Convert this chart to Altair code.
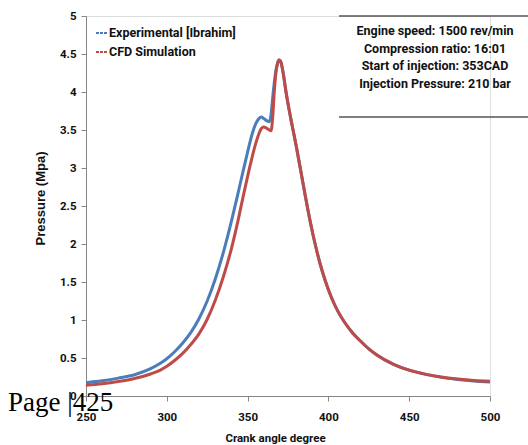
import altair as alt
import pandas as pd

# Crank angle (deg) and cylinder pressure (MPa) for both series
crank_angle = [250, 260, 270, 280, 290, 296, 300, 305, 310, 315, 320, 325, 330, 335,
               340, 344, 347, 350, 353, 355, 357, 358.5, 360, 362, 363.5, 364.5, 365.5,
               366.5, 367.5, 368.5, 369.5, 370.5, 372, 374, 377, 380, 383, 386, 389,
               392, 395, 398, 402, 406, 410, 415, 420, 425, 430, 440, 450, 460, 470,
               480, 490, 500]

experimental = [0.175, 0.20, 0.235, 0.28, 0.36, 0.43, 0.49, 0.585, 0.70, 0.84, 1.02, 1.25,
                1.54, 1.89, 2.30, 2.66, 2.94, 3.21, 3.46, 3.58, 3.65, 3.67, 3.65, 3.62,
                3.61, 3.70, 3.92, 4.12, 4.28, 4.38, 4.42, 4.40, 4.25, 3.97, 3.62, 3.30,
                2.95, 2.60, 2.27, 1.98, 1.73, 1.52, 1.29, 1.11, 0.97, 0.83, 0.72, 0.62,
                0.54, 0.42, 0.34, 0.285, 0.245, 0.218, 0.198, 0.184]

cfd_simulation = [0.14, 0.16, 0.19, 0.23, 0.29, 0.34, 0.39, 0.47, 0.565, 0.68, 0.82, 1.01,
                  1.26, 1.57, 1.94, 2.30, 2.60, 2.89, 3.16, 3.32, 3.45, 3.52, 3.54, 3.52,
                  3.50, 3.49, 3.66, 4.00, 4.25, 4.37, 4.42, 4.40, 4.25, 3.97, 3.62, 3.30,
                  2.95, 2.60, 2.27, 1.98, 1.73, 1.52, 1.29, 1.11, 0.97, 0.83, 0.72, 0.62,
                  0.54, 0.42, 0.34, 0.288, 0.25, 0.224, 0.205, 0.195]

series_names = ["Experimental [Ibrahim]", "CFD Simulation"]
series_colors = ["#4a7ebb", "#be4b48"]

x_ticks = [250, 300, 350, 400, 450, 500]
y_ticks = [0, 0.5, 1, 1.5, 2, 2.5, 3, 3.5, 4, 4.5, 5]

info_lines = ["Engine speed: 1500 rev/min",
              "Compression ratio: 16:01",
              "Start of injection: 353CAD",
              "Injection Pressure: 210 bar"]

page_label = "Page |425"

NARROW = "Roboto"
INK = "#111111"
AXIS_GREY = "#868686"

rows = []
for i, a in enumerate(crank_angle):
    rows.append({"angle": a, "pressure": experimental[i], "series": series_names[0], "order": 0})
    rows.append({"angle": a, "pressure": cfd_simulation[i], "series": series_names[1], "order": 1})
df = pd.DataFrame(rows)

x_axis = alt.Axis(values=x_ticks, title="Crank angle degree", grid=False,
                  domainColor=AXIS_GREY, tickColor=AXIS_GREY, tickSize=5,
                  labelFont=NARROW, labelFontSize=11.5, labelFontWeight="bold",
                  labelColor=INK, labelPadding=10, labelFlush=False,
                  titleFont=NARROW, titleFontSize=11.5, titleFontWeight="bold",
                  titleColor=INK, titleX=189, titleY=45,
                  titleBaseline="alphabetic", titleAlign="center")

y_axis = alt.Axis(values=y_ticks, format="~g", title="Pressure (Mpa)", grid=False,
                  domainColor=AXIS_GREY, tickColor=AXIS_GREY, tickSize=5,
                  labelFont=NARROW, labelFontSize=11.5, labelFontWeight="bold",
                  labelColor=INK, labelPadding=5, labelFlush=False,
                  titleFont="Liberation Sans", titleFontSize=13, titleFontWeight="bold",
                  titleColor=INK, titleX=-46, titleY=182, titleAngle=-90,
                  titleBaseline="middle", titleAlign="center")

lines = alt.Chart(df).mark_line(strokeWidth=3, interpolate="monotone").encode(
    x=alt.X("angle:Q", scale=alt.Scale(domain=[250, 500], nice=False, zero=False), axis=x_axis),
    y=alt.Y("pressure:Q", scale=alt.Scale(domain=[0, 5], nice=False), axis=y_axis),
    color=alt.Color("series:N",
                    scale=alt.Scale(domain=series_names, range=series_colors),
                    sort=series_names,
                    legend=alt.Legend(title=None, orient="none", legendX=9, legendY=10,
                                      symbolType="stroke", symbolSize=144,
                                      symbolStrokeWidth=2, symbolDash=[3, 1],
                                      labelFont=NARROW, labelFontSize=12.5,
                                      labelFontWeight="bold", labelColor=INK,
                                      labelLimit=300, labelOffset=0, rowPadding=5)),
    order=alt.Order("order:Q"),
    detail="series:N",
)

one_row = pd.DataFrame({"k": [0]})

info_rules = alt.Chart(one_row).mark_rule(color="#555555", strokeWidth=1.5).encode(
    x=alt.value(253), x2=alt.value(442), y=alt.value(0)
) + alt.Chart(one_row).mark_rule(color="#555555", strokeWidth=1.5).encode(
    x=alt.value(253), x2=alt.value(442), y=alt.value(101)
)

info_text = alt.Chart(one_row).mark_text(
    text=info_lines, font=NARROW, fontSize=12.5, fontWeight="bold", color=INK,
    align="center", baseline="alphabetic", lineHeight=17.7
).encode(x=alt.value(349), y=alt.value(19))

page_text = alt.Chart(one_row).mark_text(
    text=page_label, font="Liberation Serif", fontSize=27, color="#000000",
    align="left", baseline="alphabetic"
).encode(x=alt.value(-78), y=alt.value(395))

chart = alt.layer(lines, info_rules, info_text, page_text).properties(
    width=404, height=380,
    autosize="none",
    padding={"left": 86, "top": 16, "right": 38, "bottom": 49},
).configure_view(stroke=None).configure(background="white")

chart.save("out.html", embed_options={"renderer": "svg", "actions": False})
